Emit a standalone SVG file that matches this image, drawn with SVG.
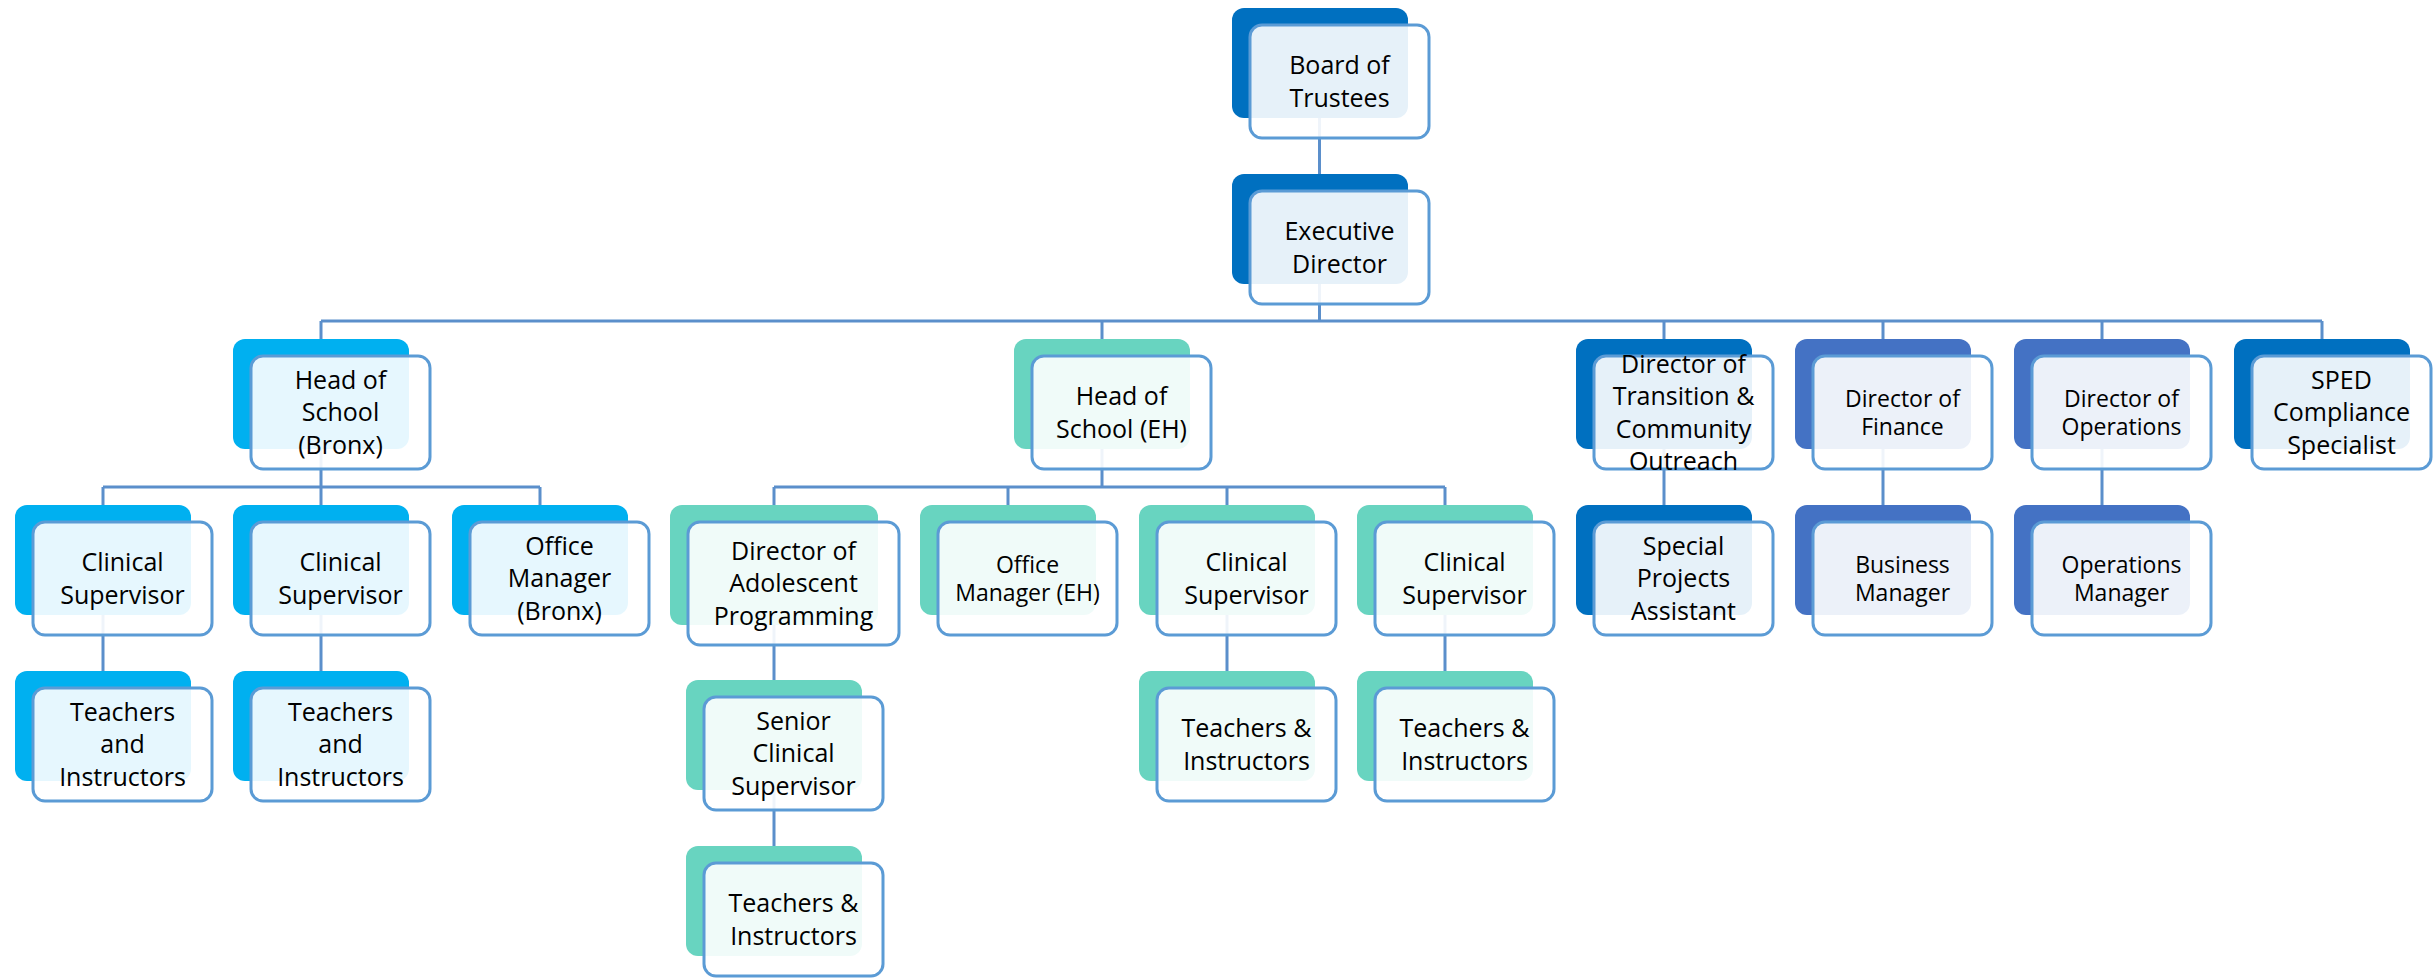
<svg xmlns="http://www.w3.org/2000/svg" width="2433" height="980" viewBox="0 0 2433 980">
<style>
.bk{stroke:none}
.c0{fill:#0070C0}
.c1{fill:#00B0F0}
.c2{fill:#68D4C0}
.c3{fill:#4472C4}
.fr{fill:#ffffff;fill-opacity:0.9;stroke:#5B9BD5;stroke-width:3}
.t{font-family:"Open Sans","Liberation Sans",sans-serif;font-size:25px;fill:#000000;text-anchor:middle}
.s{font-size:23px}
.cn{fill:none;stroke:#5B8FCB;stroke-width:3}
</style>
<rect width="2433" height="980" fill="#ffffff"/>
<g id="connectors" class="cn">
<path d="M1319.5,118V174"/>
<path d="M1319.5,284V321M321,321H2322M321,321V339M1102,321V339M1664,321V339M1883,321V339M2102,321V339M2322,321V339"/>
<path d="M321,449V487M103,487H540M103,487V505M321,487V505M540,487V505"/>
<path d="M103,615V671M321,615V671"/>
<path d="M1102,449V487M774,487H1445M774,487V505M1008,487V505M1227,487V505M1445,487V505"/>
<path d="M774,625V680M774,790V846"/>
<path d="M1227,615V671M1445,615V671"/>
<path d="M1664,449V505M1883,449V505M2102,449V505"/>
</g>
<g id="board"><rect class="bk c0" x="1232" y="8" width="176" height="110" rx="12"/><rect class="fr" x="1250" y="25" width="179" height="113" rx="12"/><text class="t"><tspan x="1339.5" y="74.2">Board of</tspan><tspan x="1339.5" y="106.7">Trustees</tspan></text></g>
<g id="exec"><rect class="bk c0" x="1232" y="174" width="176" height="110" rx="12"/><rect class="fr" x="1250" y="191" width="179" height="113" rx="12"/><text class="t"><tspan x="1339.5" y="240.2">Executive</tspan><tspan x="1339.5" y="272.7">Director</tspan></text></g>
<g id="hos-bronx"><rect class="bk c1" x="233" y="339" width="176" height="110" rx="12"/><rect class="fr" x="251" y="356" width="179" height="113" rx="12"/><text class="t"><tspan x="340.5" y="388.9">Head of</tspan><tspan x="340.5" y="421.4">School</tspan><tspan x="340.5" y="453.9">(Bronx)</tspan></text></g>
<g id="hos-eh"><rect class="bk c2" x="1014" y="339" width="176" height="110" rx="12"/><rect class="fr" x="1032" y="356" width="179" height="113" rx="12"/><text class="t"><tspan x="1121.5" y="405.2">Head of</tspan><tspan x="1121.5" y="437.7">School (EH)</tspan></text></g>
<g id="dir-transition"><rect class="bk c0" x="1576" y="339" width="176" height="110" rx="12"/><rect class="fr" x="1594" y="356" width="179" height="113" rx="12"/><text class="t"><tspan x="1683.5" y="372.7">Director of</tspan><tspan x="1683.5" y="405.2">Transition &amp;</tspan><tspan x="1683.5" y="437.7">Community</tspan><tspan x="1683.5" y="470.2">Outreach</tspan></text></g>
<g id="dir-finance"><rect class="bk c3" x="1795" y="339" width="176" height="110" rx="12"/><rect class="fr" x="1813" y="356" width="179" height="113" rx="12"/><text class="t s"><tspan x="1902.5" y="406.5">Director of</tspan><tspan x="1902.5" y="435">Finance</tspan></text></g>
<g id="dir-operations"><rect class="bk c3" x="2014" y="339" width="176" height="110" rx="12"/><rect class="fr" x="2032" y="356" width="179" height="113" rx="12"/><text class="t s"><tspan x="2121.5" y="406.5">Director of</tspan><tspan x="2121.5" y="435">Operations</tspan></text></g>
<g id="sped"><rect class="bk c0" x="2234" y="339" width="176" height="110" rx="12"/><rect class="fr" x="2252" y="356" width="179" height="113" rx="12"/><text class="t"><tspan x="2341.5" y="388.9">SPED</tspan><tspan x="2341.5" y="421.4">Compliance</tspan><tspan x="2341.5" y="453.9">Specialist</tspan></text></g>
<g id="cs-bronx-1"><rect class="bk c1" x="15" y="505" width="176" height="110" rx="12"/><rect class="fr" x="33" y="522" width="179" height="113" rx="12"/><text class="t"><tspan x="122.5" y="571.2">Clinical</tspan><tspan x="122.5" y="603.7">Supervisor</tspan></text></g>
<g id="cs-bronx-2"><rect class="bk c1" x="233" y="505" width="176" height="110" rx="12"/><rect class="fr" x="251" y="522" width="179" height="113" rx="12"/><text class="t"><tspan x="340.5" y="571.2">Clinical</tspan><tspan x="340.5" y="603.7">Supervisor</tspan></text></g>
<g id="om-bronx"><rect class="bk c1" x="452" y="505" width="176" height="110" rx="12"/><rect class="fr" x="470" y="522" width="179" height="113" rx="12"/><text class="t"><tspan x="559.5" y="554.9">Office</tspan><tspan x="559.5" y="587.4">Manager</tspan><tspan x="559.5" y="619.9">(Bronx)</tspan></text></g>
<g id="dir-adolescent"><rect class="bk c2" x="670" y="505" width="208" height="120" rx="12"/><rect class="fr" x="688" y="522" width="211" height="123" rx="12"/><text class="t"><tspan x="793.5" y="559.9">Director of</tspan><tspan x="793.5" y="592.4">Adolescent</tspan><tspan x="793.5" y="624.9">Programming</tspan></text></g>
<g id="om-eh"><rect class="bk c2" x="920" y="505" width="176" height="110" rx="12"/><rect class="fr" x="938" y="522" width="179" height="113" rx="12"/><text class="t s"><tspan x="1027.5" y="572.5">Office</tspan><tspan x="1027.5" y="601">Manager (EH)</tspan></text></g>
<g id="cs-eh-1"><rect class="bk c2" x="1139" y="505" width="176" height="110" rx="12"/><rect class="fr" x="1157" y="522" width="179" height="113" rx="12"/><text class="t"><tspan x="1246.5" y="571.2">Clinical</tspan><tspan x="1246.5" y="603.7">Supervisor</tspan></text></g>
<g id="cs-eh-2"><rect class="bk c2" x="1357" y="505" width="176" height="110" rx="12"/><rect class="fr" x="1375" y="522" width="179" height="113" rx="12"/><text class="t"><tspan x="1464.5" y="571.2">Clinical</tspan><tspan x="1464.5" y="603.7">Supervisor</tspan></text></g>
<g id="spa"><rect class="bk c0" x="1576" y="505" width="176" height="110" rx="12"/><rect class="fr" x="1594" y="522" width="179" height="113" rx="12"/><text class="t"><tspan x="1683.5" y="554.9">Special</tspan><tspan x="1683.5" y="587.4">Projects</tspan><tspan x="1683.5" y="619.9">Assistant</tspan></text></g>
<g id="business-manager"><rect class="bk c3" x="1795" y="505" width="176" height="110" rx="12"/><rect class="fr" x="1813" y="522" width="179" height="113" rx="12"/><text class="t s"><tspan x="1902.5" y="572.5">Business</tspan><tspan x="1902.5" y="601">Manager</tspan></text></g>
<g id="operations-manager"><rect class="bk c3" x="2014" y="505" width="176" height="110" rx="12"/><rect class="fr" x="2032" y="522" width="179" height="113" rx="12"/><text class="t s"><tspan x="2121.5" y="572.5">Operations</tspan><tspan x="2121.5" y="601">Manager</tspan></text></g>
<g id="teachers-bronx-1"><rect class="bk c1" x="15" y="671" width="176" height="110" rx="12"/><rect class="fr" x="33" y="688" width="179" height="113" rx="12"/><text class="t"><tspan x="122.5" y="720.9">Teachers</tspan><tspan x="122.5" y="753.4">and</tspan><tspan x="122.5" y="785.9">Instructors</tspan></text></g>
<g id="teachers-bronx-2"><rect class="bk c1" x="233" y="671" width="176" height="110" rx="12"/><rect class="fr" x="251" y="688" width="179" height="113" rx="12"/><text class="t"><tspan x="340.5" y="720.9">Teachers</tspan><tspan x="340.5" y="753.4">and</tspan><tspan x="340.5" y="785.9">Instructors</tspan></text></g>
<g id="senior-cs"><rect class="bk c2" x="686" y="680" width="176" height="110" rx="12"/><rect class="fr" x="704" y="697" width="179" height="113" rx="12"/><text class="t"><tspan x="793.5" y="729.9">Senior</tspan><tspan x="793.5" y="762.4">Clinical</tspan><tspan x="793.5" y="794.9">Supervisor</tspan></text></g>
<g id="teachers-senior"><rect class="bk c2" x="686" y="846" width="176" height="110" rx="12"/><rect class="fr" x="704" y="863" width="179" height="113" rx="12"/><text class="t"><tspan x="793.5" y="912.2">Teachers &amp;</tspan><tspan x="793.5" y="944.7">Instructors</tspan></text></g>
<g id="teachers-eh-1"><rect class="bk c2" x="1139" y="671" width="176" height="110" rx="12"/><rect class="fr" x="1157" y="688" width="179" height="113" rx="12"/><text class="t"><tspan x="1246.5" y="737.2">Teachers &amp;</tspan><tspan x="1246.5" y="769.7">Instructors</tspan></text></g>
<g id="teachers-eh-2"><rect class="bk c2" x="1357" y="671" width="176" height="110" rx="12"/><rect class="fr" x="1375" y="688" width="179" height="113" rx="12"/><text class="t"><tspan x="1464.5" y="737.2">Teachers &amp;</tspan><tspan x="1464.5" y="769.7">Instructors</tspan></text></g>
</svg>
